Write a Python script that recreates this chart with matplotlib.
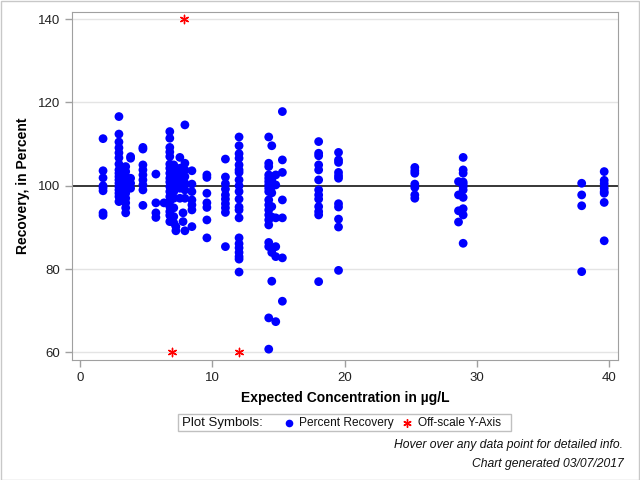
import matplotlib
matplotlib.use("Agg")
import matplotlib.pyplot as plt
from matplotlib.patches import Rectangle
from matplotlib.lines import Line2D

plt.rcParams['font.family'] = ['Liberation Sans', 'DejaVu Sans']

# Expected concentration levels (ug/L) and recovery values (%) at each level
conc_levels = [1.76, 2.96, 3.47, 3.84, 4.77, 5.75, 6.36, 6.8, 7.1, 7.26, 7.56, 7.8,
               7.94, 8.47, 9.6, 11.0, 12.03, 14.27, 14.5, 14.8, 15.3, 18.04, 19.54,
               25.3, 28.6, 28.95, 37.9, 39.6]
rec_1_76 = [111.3, 103.6, 101.9, 100.0, 99.5, 98.8, 93.5, 92.9]
rec_2_96 = [116.6, 112.4, 110.5, 109.1, 107.9, 106.7, 105.2, 103.8, 103.0, 102.2,
            101.4, 100.6, 99.8, 99.0, 98.2, 97.4, 96.2]
rec_3_47 = [104.6, 103.4, 102.2, 101.2, 100.2, 99.0, 98.2, 97.0, 95.9, 94.7, 93.5]
rec_3_84 = [107.0, 106.6, 101.8, 100.6, 99.4]
rec_4_77 = [109.2, 108.8, 105.0, 103.8, 102.6, 101.4, 100.2, 99.0, 95.3]
rec_5_75 = [102.8, 95.9, 93.5, 92.4]
rec_6_36 = [95.9]
rec_6_8 = [113.0, 111.4, 109.2, 108.1, 107.0, 105.2, 104.2, 103.0, 101.8, 100.9,
           99.8, 98.6, 97.4, 96.2, 95.0, 93.8, 92.9, 91.4]
rec_7_1 = [105.0, 103.4, 101.8, 100.2, 98.6, 97.0, 94.7, 92.6, 91.1]
rec_7_26 = [90.2, 89.2]
rec_7_56 = [106.8, 104.2, 102.6, 101.0, 99.4, 97.0]
rec_7_8 = [93.5, 91.4]
rec_7_94 = [114.6, 105.4, 103.8, 102.2, 100.6, 99.0, 97.0, 89.2]
rec_8_47 = [103.6, 100.4, 98.6, 96.6, 95.4, 94.2, 90.2]
rec_9_6 = [102.6, 102.0, 98.2, 95.9, 94.8, 91.8, 87.5]
rec_11_0 = [106.4, 102.1, 100.5, 99.2, 97.8, 96.8, 95.7, 94.7, 93.6, 85.4]
rec_12_03 = [111.7, 109.6, 107.7, 106.6, 105.0, 103.8, 103.2, 101.4, 100.0, 98.6,
             96.8, 94.9, 94.2, 92.3, 87.5, 86.1, 85.1, 84.0, 83.0, 82.4, 79.3]
rec_14_27 = [111.7, 105.4, 104.6, 102.6, 101.8, 101.0, 100.2, 99.4, 98.6, 96.6,
             95.4, 94.2, 93.0, 91.8, 90.6, 86.4, 85.4, 68.3, 60.8]
rec_14_5 = [109.6, 102.2, 101.4, 99.8, 98.3, 95.0, 92.5, 84.0, 77.1]
rec_14_8 = [102.6, 100.2, 92.3, 85.4, 83.0, 67.4]
rec_15_3 = [117.8, 106.2, 103.2, 96.6, 92.3, 82.7, 72.3]
rec_18_04 = [110.6, 107.8, 107.2, 105.0, 103.8, 101.4, 99.0, 97.8, 96.8, 95.0,
             93.8, 93.0, 77.0]
rec_19_54 = [108.0, 106.2, 105.6, 103.2, 102.4, 101.8, 95.7, 94.9, 92.0, 90.1, 79.7]
rec_25_3 = [104.4, 103.6, 103.0, 100.4, 99.6, 97.8, 97.0]
rec_28_6 = [101.0, 97.8, 94.0, 91.3]
rec_28_95 = [106.8, 103.8, 103.0, 100.9, 100.4, 99.8, 99.0, 97.2, 94.5, 93.0, 86.2]
rec_37_9 = [100.6, 97.8, 95.2, 79.4]
rec_39_6 = [103.4, 101.3, 100.5, 99.4, 98.6, 98.2, 96.0, 86.8]

recoveries = [rec_1_76, rec_2_96, rec_3_47, rec_3_84, rec_4_77, rec_5_75, rec_6_36,
              rec_6_8, rec_7_1, rec_7_26, rec_7_56, rec_7_8, rec_7_94, rec_8_47,
              rec_9_6, rec_11_0, rec_12_03, rec_14_27, rec_14_5, rec_14_8, rec_15_3,
              rec_18_04, rec_19_54, rec_25_3, rec_28_6, rec_28_95, rec_37_9, rec_39_6]

# Off-scale points (plotted at axis limits)
off_x = [7.9, 7.0, 12.0]
off_y = [140, 60, 60]

x_ticks = [0, 10, 20, 30, 40]
y_ticks = [60, 80, 100, 120, 140]

xs, ys = [], []
for c, vals in zip(conc_levels, recoveries):
    for v in vals:
        xs.append(c)
        ys.append(v)

fig = plt.figure(figsize=(6.4, 4.8), dpi=100)
ax = fig.add_axes([0.113, 0.25, 0.853, 0.726])

for yt in y_ticks:
    if yt != 100:
        ax.axhline(yt, color='#e4e4e4', lw=1, zorder=0)
ax.axhline(100, color='black', lw=1.1, zorder=1)

ax.scatter(xs, ys, s=40, color='#0000ff', edgecolors='none', zorder=3)
ax.scatter(off_x, off_y, marker=(6, 2, 0), s=36, color='#ff0000', linewidths=1.0, zorder=3)

ax.set_xlim(-0.56, 40.66)
ax.set_ylim(58.2, 141.8)
ax.set_xticks(x_ticks)
ax.set_yticks(y_ticks)
for sp in ax.spines.values():
    sp.set_color('#a0a0a0')
ax.tick_params(colors='#a0a0a0', labelcolor='#222222', labelsize=9.5, length=5, width=1)

ax.set_xlabel('Expected Concentration in µg/L', fontsize=10, fontweight='bold', labelpad=5)
ax.set_ylabel('Recovery, in Percent', fontsize=10, fontweight='bold', labelpad=6)

# Legend box (custom)
fig.patches.append(Rectangle((0.278, 0.102), 0.520, 0.0354, transform=fig.transFigure,
                             facecolor='white', edgecolor='#c0c0c0', lw=1))
ly = 0.1195
fig.text(0.284, ly, 'Plot Symbols:', fontsize=9.5, va='center', ha='left', color='#111111')
fig.lines.append(Line2D([0.4516], [ly], transform=fig.transFigure, marker='o',
                        markersize=5.5, color='#0000ff', markeredgewidth=0))
fig.text(0.467, ly, 'Percent Recovery', fontsize=8.6, va='center', ha='left', color='#111111')
fig.lines.append(Line2D([0.636], [ly], transform=fig.transFigure, marker=(6, 2, 0),
                        markersize=6, color='#ff0000', markeredgewidth=1.0))
fig.text(0.653, ly, 'Off-scale Y-Axis', fontsize=8.6, va='center', ha='left', color='#111111')

fig.text(0.974, 0.073, 'Hover over any data point for detailed info.', fontsize=8.7,
         style='italic', ha='right', va='center', color='#111111')
fig.text(0.974, 0.033, 'Chart generated 03/07/2017', fontsize=8.7,
         style='italic', ha='right', va='center', color='#111111')

# Outer figure border
fig.patches.append(Rectangle((0.001, 0.001), 0.997, 0.997, transform=fig.transFigure,
                             facecolor='none', edgecolor='#c8c8c8', lw=1))

fig.savefig('out.png', dpi=100)
